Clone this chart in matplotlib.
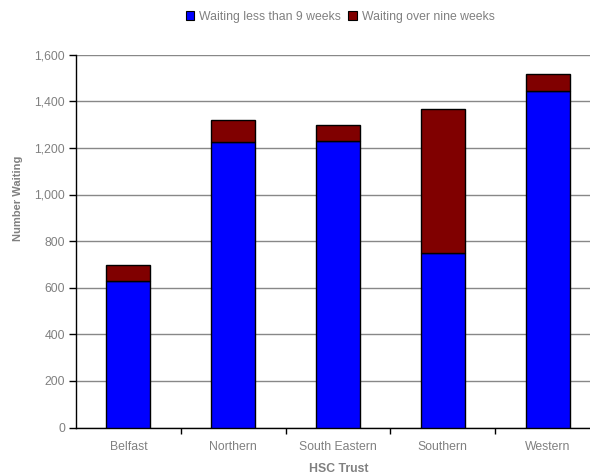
import matplotlib.pyplot as plt
from matplotlib.patches import Patch

plt.rcParams['font.family'] = ['Liberation Sans', 'DejaVu Sans']

trusts = ["Belfast", "Northern", "South Eastern", "Southern", "Western"]
under_9 = [630, 1225, 1230, 748, 1445]
over_9 = [68, 93, 67, 620, 73]

blue = "#0000ff"
maroon = "#800000"
grey_txt = "#808080"
fs = 8.8

fig = plt.figure(figsize=(5.9, 4.76), dpi=100)
# axes run slightly past the right edge of the figure
ax = fig.add_axes([76 / 590, 48.5 / 476, 524 / 590, 372.8 / 476])

x = range(len(trusts))
ax.bar(x, under_9, width=0.42, color=blue, edgecolor="black", linewidth=1, zorder=3)
ax.bar(x, over_9, width=0.42, bottom=under_9, color=maroon, edgecolor="black",
       linewidth=1, zorder=3)

ax.set_xlim(-0.5, 4.5)
ax.set_ylim(0, 1600)
ax.set_yticks(range(0, 1601, 200))
ax.set_yticklabels([f"{v:,}" for v in range(0, 1601, 200)])
ax.set_xticks(list(x))
ax.set_xticklabels(trusts)
ax.set_xticks([0.5, 1.5, 2.5, 3.5], minor=True)

ax.yaxis.grid(True, color="#888888", linewidth=1, zorder=0)
ax.set_axisbelow(True)
for side in ["top", "right"]:
    ax.spines[side].set_visible(False)
ax.spines["left"].set_linewidth(1)
ax.spines["bottom"].set_linewidth(1)

ax.tick_params(axis="y", length=5, width=1, colors="black", labelcolor=grey_txt,
               labelsize=fs, pad=3)
ax.tick_params(axis="x", which="major", length=0, labelcolor=grey_txt,
               labelsize=fs, pad=10)
ax.tick_params(axis="x", which="minor", length=4, width=1, colors="black")

# axis titles placed in figure pixels
fig.text(18 / 590, 1 - 198 / 476, "Number Waiting", color=grey_txt, fontsize=8,
         fontweight="bold", rotation=90, ha="center", va="center")
fig.text(339 / 590, 1 - 469 / 476, "HSC Trust", color=grey_txt, fontsize=8.8,
         fontweight="bold", ha="center", va="center")

handles = [Patch(facecolor=blue, edgecolor="black", linewidth=0.8),
           Patch(facecolor=maroon, edgecolor="black", linewidth=0.8)]
fig.legend(handles, ["Waiting less than 9 weeks", "Waiting over nine weeks"],
           loc="center", bbox_to_anchor=(340 / 590, 1 - 17 / 476), ncol=2,
           frameon=False, fontsize=fs, labelcolor=grey_txt, handlelength=0.7,
           handleheight=0.7, handletextpad=0.4, columnspacing=0.6)

fig.savefig("out.png", dpi=100)
